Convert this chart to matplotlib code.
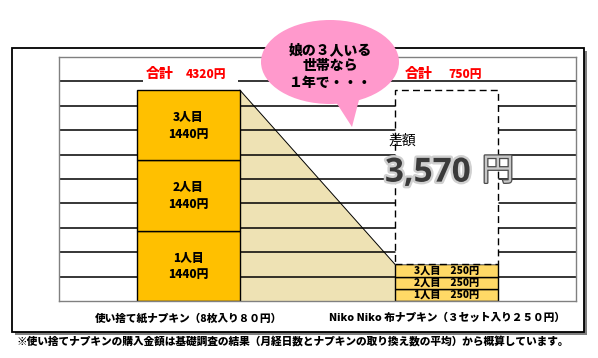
import matplotlib
matplotlib.use('Agg')
import matplotlib.pyplot as plt
from matplotlib.patches import Rectangle, Ellipse, Polygon
import matplotlib.patheffects as pe

plt.rcParams['font.family'] = ['Noto Sans CJK JP', 'DejaVu Sans']

# データ
categories = ['使い捨て紙ナプキン（8枚入り８０円）', 'Niko Niko 布ナプキン（３セット入り２５０円）']
people = ['1人目', '2人目', '3人目']
paper_costs = [1440, 1440, 1440]
cloth_costs = [250, 250, 250]
grid_levels = [500, 1000, 1500, 2000, 2500, 3000, 3500, 4000, 4500]
bubble_lines = ['娘の３人いる', '世帯なら', '１年で・・・']
note = '※使い捨てナプキンの購入金額は基礎調査の結果（月経日数とナプキンの取り換え数の平均）から概算しています。'

total_paper = sum(paper_costs)
total_cloth = sum(cloth_costs)
diff = total_paper - total_cloth

W, H = 598, 358
fig = plt.figure(figsize=(W / 100, H / 100), dpi=100)

# 背景の枠（影つき）
bg = fig.add_axes([0, 0, 1, 1], zorder=0)
bg.set_xlim(0, W)
bg.set_ylim(H, 0)
bg.axis('off')
bg.add_patch(Rectangle((15, 51), 572, 284, facecolor='#7f7f7f', edgecolor='none'))
bg.add_patch(Rectangle((12, 48), 572, 284, facecolor='white', edgecolor='black', lw=1.3))
bg.text(17, 341, note, fontsize=7.7, fontweight='heavy', ha='left', va='center')

# メインのグラフ
ax = fig.add_axes([59 / W, (H - 301) / H, 517 / W, 244 / H], zorder=1)
ax.set_xlim(-0.5, 1.5)
ax.set_ylim(0, 5000)
w = 0.4
x0, x1 = 0 + w / 2, 1 - w / 2

# 差額の台形
ax.fill([x0, x1, x1, x0], [total_paper, total_cloth, 0, 0], color='#EEE2B4', zorder=1, lw=0)
ax.plot([x0, x1], [total_paper, total_cloth], color='black', lw=0.7, zorder=1.2)
ax.hlines(grid_levels, -0.5, 1.5, color='black', lw=1.1, zorder=1.5)

# 紙ナプキン
bottom = 0
for p, c in zip(people, paper_costs):
    ax.bar(0, c, w, bottom=bottom, color='#FFC000', edgecolor='black', lw=1, zorder=2)
    ax.text(0, bottom + c / 2, f'{p}\n{c}円', ha='center', va='center',
            fontsize=8.5, fontweight='heavy', linespacing=1.45, zorder=4)
    bottom += c

# 布ナプキン
bottom = 0
for p, c in zip(people, cloth_costs):
    ax.bar(1, c, w, bottom=bottom, color='#FFD966', edgecolor='black', lw=1, zorder=2)
    ax.text(1, bottom + c / 2, f'{p}　{c}円', ha='center', va='center',
            fontsize=7.3, fontweight='heavy', zorder=4)
    bottom += c
ax.bar(1, diff, w, bottom=total_cloth, color='white', edgecolor='black', lw=1,
       linestyle=(0, (5, 3)), zorder=2)

# 合計ラベル
ax.add_patch(Rectangle((-0.175, 4420), 0.368, 460, facecolor='white', edgecolor='none', zorder=2.5))
for xc, total in [(0, total_paper), (1, total_cloth)]:
    ax.text(xc - 0.11, 4650, '合計', color='red', fontsize=10, fontweight='heavy',
            ha='center', va='center', zorder=4)
    ax.text(xc + 0.07, 4650, f'{total}円', color='red', fontsize=8.5, fontweight='heavy',
            ha='center', va='center', zorder=4)

# 差額
ax.text(0.827, 3290, '差額', fontsize=10, ha='center', va='center', zorder=4)
ax.text(0.927, 2620, f'{diff:,}', fontsize=24, fontweight='bold', color='#3a3a3a',
        ha='center', va='center', zorder=4, family=['Open Sans', 'DejaVu Sans'],
        path_effects=[pe.withStroke(linewidth=3.5, foreground='#d0d0d0')])
ax.text(1.198, 2660, '円', fontsize=23, color='#c8c8c8', ha='center', va='center', zorder=4,
        path_effects=[pe.Stroke(linewidth=1.8, foreground='#4a4a4a'), pe.Normal()])

for s in ax.spines.values():
    s.set_color('#808080')
    s.set_linewidth(1)
ax.set_xticks([0, 1], categories, fontsize=7.7, fontweight='heavy')
ax.tick_params(left=False, labelleft=False, bottom=False, pad=5)

# 吹き出し
top = fig.add_axes([0, 0, 1, 1], zorder=2)
top.set_xlim(0, W)
top.set_ylim(H, 0)
top.axis('off')
top.patch.set_alpha(0)
top.add_patch(Ellipse((330, 62), 138, 84, color='#FF99CC', lw=0))
top.add_patch(Polygon([(332, 96), (352, 127), (360, 96)], closed=True, color='#FF99CC', lw=0))
for txt, yy in zip(bubble_lines, [50, 66, 83]):
    top.text(330, yy, txt, fontsize=10, fontweight='heavy', ha='center', va='center')

fig.savefig('out.png', dpi=100)
